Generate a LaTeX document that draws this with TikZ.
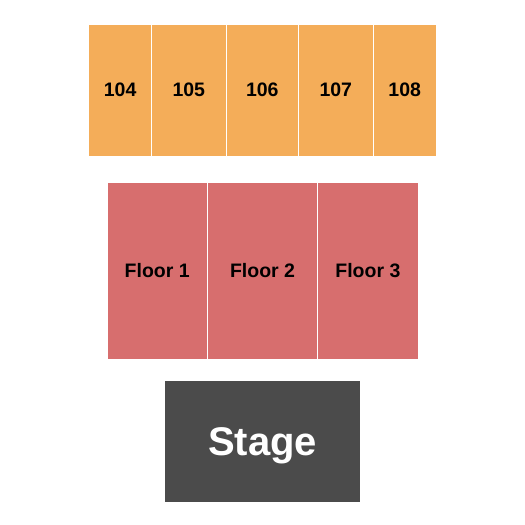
\documentclass[tikz,border=0pt]{standalone}
\usepackage{fontspec}
\setmainfont{Liberation Sans}
\definecolor{upperdeck}{HTML}{F4AD59}
\definecolor{floordeck}{HTML}{D76E6E}
\definecolor{stagegray}{HTML}{4B4B4B}
\begin{document}
\begin{tikzpicture}[x=1pt, y=-1pt,
	section/.style={draw=white, line width=1pt, fill=upperdeck, inner sep=0pt,
		minimum height=132pt, font=\bfseries\fontsize{19.5}{19.5}\selectfont},
	floorsec/.style={draw=white, line width=1pt, fill=floordeck, inner sep=0pt,
		minimum height=177pt, font=\bfseries\fontsize{19.5}{19.5}\selectfont},
	stagebox/.style={fill=stagegray, text=white, inner sep=0pt,
		text height=28.8pt, text depth=0pt,
		minimum width=195pt, minimum height=121pt, font=\bfseries\fontsize{40}{40}\selectfont}]

\useasboundingbox (0, 0) rectangle (525, 525);

\foreach \x/\w/\name in {
	120.1/62.3/104,
	188.8/75/105,
	262.3/72/106,
	335.8/75/107,
	404.7/62.7/108}
\node[section, minimum width=\w pt] (s\name) at (\x, 90) {\name};

\foreach \x/\w/\n in {
	157.2/100.3/1,
	262.5/110.4/2,
	367.9/100.3/3}
\node[floorsec, minimum width=\w pt] (floor\n) at (\x, 270.5) {Floor \n};

\node[stagebox] (stage) at (262.5, 441.3) {Stage};

\end{tikzpicture}
\end{document}
